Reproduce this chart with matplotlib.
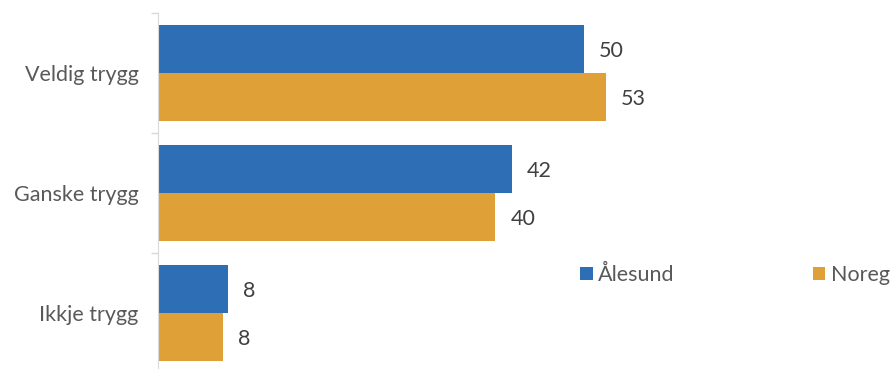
import matplotlib.pyplot as plt
import numpy as np

categories = ["Veldig trygg", "Ganske trygg", "Ikkje trygg"]
alesund = [50.4, 41.9, 8.3]
noreg = [53.0, 39.9, 7.7]
series_names = ["Ålesund", "Noreg"]

blue = "#2E6EB5"
orange = "#E0A038"
grey = "#595959"
fs = 15.5

plt.rcParams["font.family"] = ["Lato", "DejaVu Sans"]

fig = plt.figure(figsize=(8.9, 3.69), dpi=100)
# axes: x from 158px to 890px, y from 13px (top) to 373px (bottom, slightly clipped)
ax = fig.add_axes([158 / 890, (369 - 373) / 369, (890 - 158) / 890, 360 / 369])

y = np.arange(len(categories))
h = 0.4
b1 = ax.barh(y - h / 2, alesund, height=h, color=blue, label=series_names[0])
b2 = ax.barh(y + h / 2, noreg, height=h, color=orange, label=series_names[1])

for bars in (b1, b2):
    for bar in bars:
        w = bar.get_width()
        ax.annotate(f"{w:.0f}", (w, bar.get_y() + bar.get_height() / 2),
                    xytext=(15, -2), textcoords="offset pixels",
                    va="center", ha="left", fontsize=fs, color="#404040")

ax.set_xlim(0, 86.6)
ax.set_ylim(len(categories) - 0.5, -0.5)

ax.set_yticks(y)
ax.set_yticklabels(categories, fontsize=fs, color=grey)
ax.set_yticks(np.arange(len(categories) + 1) - 0.5, minor=True)
ax.tick_params(axis="y", which="major", length=0, pad=14)
ax.tick_params(axis="y", which="minor", length=5, color="#D9D9D9", width=1)
ax.set_xticks([])

for s in ["top", "right", "bottom"]:
    ax.spines[s].set_visible(False)
ax.spines["left"].set_color("#D9D9D9")

fig.legend(handles=[b1, b2], labels=series_names, ncol=2, frameon=False,
           loc="center left", bbox_to_anchor=(580 / 890, (369 - 275) / 369),
           borderaxespad=0, borderpad=0, fontsize=fs, labelcolor=grey,
           handlelength=0.6, handleheight=0.6, handletextpad=0.25,
           columnspacing=6.4)

fig.savefig("out.png", dpi=100)
